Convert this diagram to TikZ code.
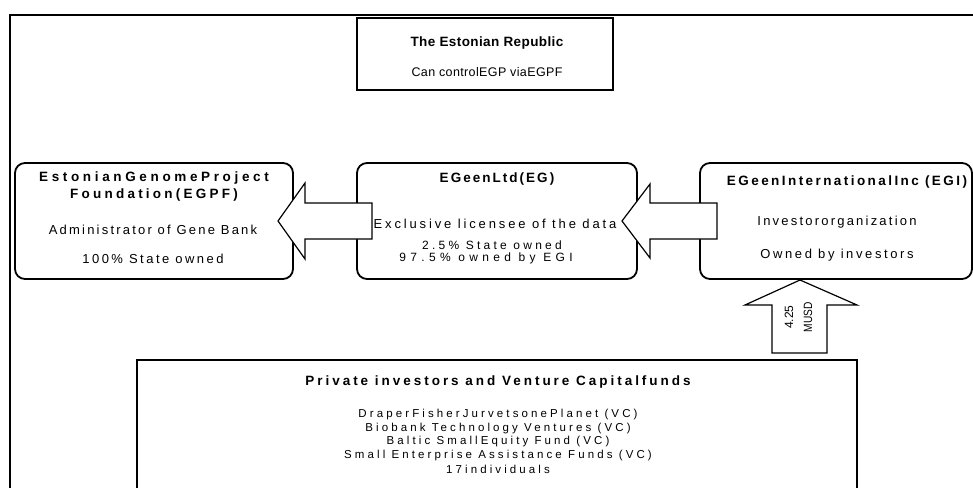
\documentclass[tikz,border=0pt]{standalone}
\usepackage{fontspec}
\setmainfont{Liberation Sans}
\newcommand\lsp[1]{\addfontfeature{LetterSpace=#1}}
\newcommand\fs[1]{\fontsize{#1}{#1}\selectfont}
\begin{document}
\begin{tikzpicture}[x=1pt,y=-1pt,
  rbox/.style={draw, line width=1.8pt, rounded corners=10pt, inner sep=0pt},
  sbox/.style={draw, line width=1.4pt, inner sep=0pt},
  barrow/.style={draw, line width=1.2pt, fill=white, line join=miter},
  txt/.style={inner sep=0pt, anchor=center},
  frameline/.style={line width=2.6pt}]
\clip (0,0) rectangle (973,487);
\useasboundingbox (0,0) rectangle (973,487);
\fill[white] (0,0) rectangle (973,487);
% outer frame
\coordinate (fbl) at (10,500);
\coordinate (ftl) at (10,15);
\coordinate (ftr) at (990,15);
\draw[frameline] (fbl) -- (ftl) -- (ftr);
% top box
\node[sbox, minimum width=256pt, minimum height=72pt] (rep) at (485,54) {};
\node[txt] (repT) at (487,43) {\fs{13.5}\bfseries\lsp{3}The Estonian Republic};
\node[txt] (repS) at (487,72) {\fs{12.5}\lsp{3}Can controlEGP viaEGPF};
% rounded boxes
\node[rbox, minimum width=278pt, minimum height=116pt] (egpf) at (154,221) {};
\node[rbox, minimum width=280pt, minimum height=116pt] (eg) at (497,221) {};
\node[rbox, minimum width=272pt, minimum height=116pt] (egi) at (836,221) {};
% EGPF text
\node[txt] (egpf1) at (154,178) {\fs{13.5}\bfseries\lsp{27}EstonianGenomeProject};
\node[txt] (egpf2) at (154,195) {\fs{13.5}\bfseries\lsp{24}Foundation(EGPF)};
\node[txt] (egpf3) at (153,230) {\fs{13}\lsp{17}Administrator of Gene Bank};
\node[txt] (egpf4) at (153,259) {\fs{13}\lsp{19}100\% State owned};
% EG text
\node[txt] (eg1) at (497,179) {\fs{13.5}\bfseries\lsp{15}EGeenLtd(EG)};
\node[txt] (eg2) at (495,224) {\fs{13}\lsp{22}Exclusive licensee of the data};
\node[txt] (eg3) at (492,245) {\fs{12}\lsp{27}2.5\% State owned};
\node[txt] (eg4) at (486,258) {\fs{12}\lsp{36}97.5\% owned by EGI};
% EGI text
\node[txt] (egi1) at (847,182) {\fs{13.5}\bfseries\lsp{18}EGeenInternationalInc (EGI)};
\node[txt] (egi2) at (837,222) {\fs{13}\lsp{17}Investororganization};
\node[txt] (egi3) at (837,255) {\fs{13}\lsp{20}Owned by investors};
% bottom box
\node[sbox, minimum width=720pt, minimum height=150pt] (priv) at (497,435) {};
\node[txt] (privT) at (498,382) {\fs{13.5}\bfseries\lsp{22}Private investors and Venture Capitalfunds};
\node[txt] (priv1) at (498,415) {\fs{11.5}\lsp{27}DraperFisherJurvetsonePlanet (VC)};
\node[txt] (priv2) at (498,428.5) {\fs{11.5}\lsp{27}Biobank Technology  Ventures (VC)};
\node[txt] (priv3) at (498,442) {\fs{11.5}\lsp{27}Baltic SmallEquity Fund (VC)};
\node[txt] (priv4) at (498,455.5) {\fs{11.5}\lsp{27}Small Enterprise Assistance Funds (VC)};
\node[txt] (priv5) at (498,469) {\fs{11.5}\lsp{27}17individuals};
% block arrows
\draw[barrow] (372,203) -- (305,203) -- (305,183) -- (278,221) -- (305,259) -- (305,239) -- (372,239) -- cycle;
\draw[barrow] (717,203) -- (650,203) -- (650,184) -- (622,221) -- (650,258) -- (650,239) -- (717,239) -- cycle;
\draw[barrow] (772,353) -- (772,305) -- (745,305) -- (800,280) -- (857,305) -- (827,305) -- (827,353) -- cycle;
\node[txt, rotate=90] (amt) at (789,317) {\fs{12}4.25};
\node[txt, rotate=90] (musd) at (808,317) {\fs{12}\addfontfeature{FakeStretch=0.85}MUSD};
\end{tikzpicture}
\end{document}
